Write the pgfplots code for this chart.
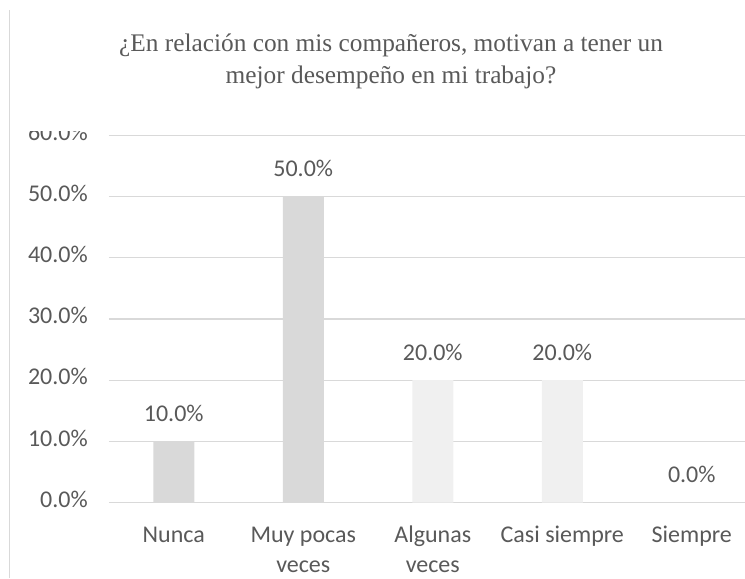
\documentclass[border=0pt]{standalone}
\usepackage{fontspec}
\setmainfont{Carlito}
\newfontfamily\titlefont{Liberation Serif}
\usepackage{pgfplots}
\pgfplotsset{compat=1.18}
\definecolor{txtgray}{HTML}{595959}
\definecolor{gridgray}{HTML}{D9D9D9}
\definecolor{bardark}{HTML}{D9D9D9}
\definecolor{barlight}{HTML}{F0F0F0}
\newcommand{\lblfont}{\fontsize{18}{22.5}\selectfont}
\begin{document}
\begin{tikzpicture}[x=0.75pt,y=0.75pt]
\path[use as bounding box] (0,0) rectangle (745,578);
% left frame line of the chart area
\draw[gridgray, line width=1.3pt] (9.5,0) -- (9.5,568);
\begin{axis}[
  at={(81.75pt,56.625pt)}, anchor=south west,
  scale only axis, width=477pt, height=275.25pt,
  xmin=-0.5, xmax=4.411, ymin=0, ymax=60,
  ybar, bar width=30.75pt,
  axis line style={draw=none},
  major tick length=0pt, tick style={draw=none},
  ymajorgrids, grid style={gridgray, line width=0.9pt},
  ytick={0,10,...,60},
  yticklabel={\pgfmathprintnumber[fixed,fixed zerofill,precision=1]{\tick}\%},
  yticklabel style={font=\lblfont, text=txtgray, inner sep=0pt, xshift=-15.75pt, yshift=2.5pt},
  xtick={0,...,4},
  xticklabels={\strut Nunca,{\strut Muy pocas\\veces},{\strut Algunas\\veces},\strut Casi siempre,\strut Siempre},
  xticklabel style={font=\lblfont, text=txtgray, align=center, inner sep=0pt,
                    anchor=north, yshift=-13.9pt},
  /pgf/number format/assume math mode=true,
  nodes near coords={\pgfmathprintnumber[fixed,fixed zerofill,precision=1]{\pgfplotspointmeta}\%},
  nodes near coords style={font=\lblfont, text=txtgray, inner sep=0pt, anchor=base, yshift=15pt},
  clip=false,
]
\addplot[bar shift=0pt, fill=bardark, draw=none]
  coordinates {(0,10) (1,50) (4,0)};
\addplot[bar shift=0pt, fill=barlight, draw=none]
  coordinates {(2,20) (3,20)};
\end{axis}
% the top of the 60% label is hidden under the title area
\fill[white] (12,447) rectangle (106,465);
\node[font=\titlefont\fontsize{19}{23.7}\selectfont, text=txtgray, anchor=base]
  at (391,{578-51.7}) {¿En relación con mis compañeros, motivan a tener un};
\node[font=\titlefont\fontsize{19}{23.7}\selectfont, text=txtgray, anchor=base]
  at (391,{578-83.3}) {mejor desempeño en mi trabajo?};
\end{tikzpicture}
\end{document}
